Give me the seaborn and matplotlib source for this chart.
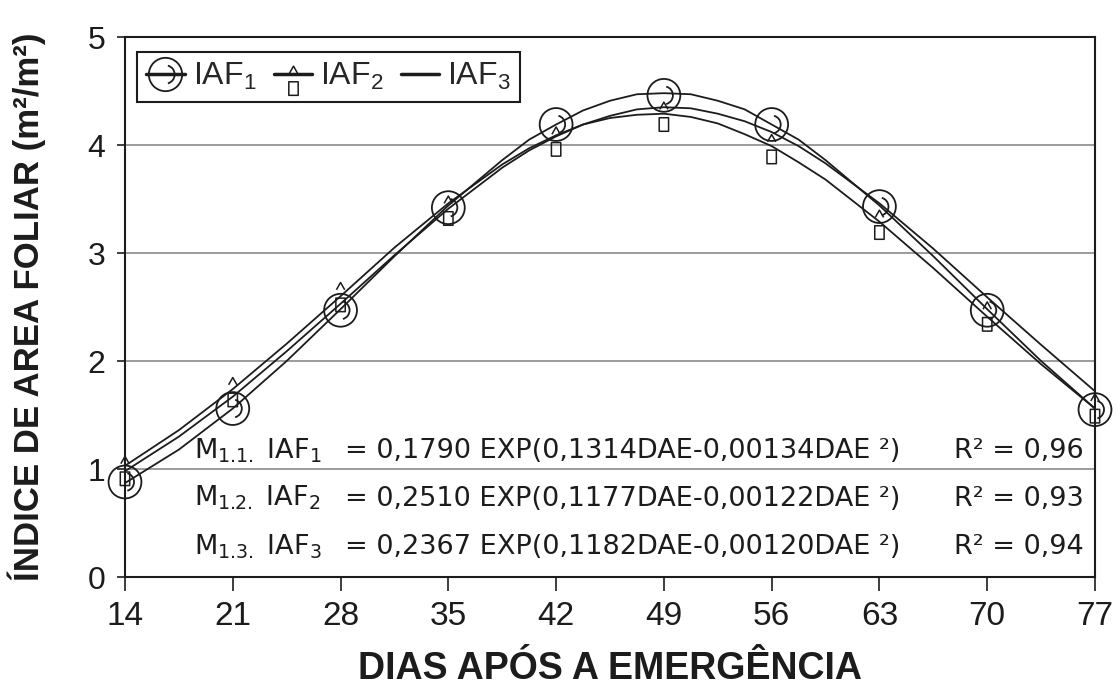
import matplotlib
matplotlib.use("Agg")
import matplotlib.pyplot as plt
import seaborn as sns
from matplotlib.path import Path
from matplotlib.lines import Line2D

# ---------------- data ----------------
dias = [14, 21, 28, 35, 42, 49, 56, 63, 70, 77]
iaf1_obs = [0.88, 1.56, 2.47, 3.42, 4.19, 4.46, 4.19, 3.43, 2.47, 1.55]
iaf2_obs = [1.04, 1.77, 2.65, 3.45, 4.09, 4.32, 4.02, 3.32, 2.47, 1.62]

dias_fit = [14, 17.5, 21, 24.5, 28, 31.5, 35, 38.5, 40.25, 42, 43.75, 45.5,
            47.25, 49, 50.75, 52.5, 54.25, 56, 57.75, 59.5, 63, 66.5, 70,
            73.5, 77]
iaf1_fit = [0.87, 1.18, 1.56, 2.00, 2.48, 2.97, 3.44, 3.86, 4.05, 4.19, 4.32,
            4.41, 4.47, 4.48, 4.47, 4.41, 4.33, 4.19, 4.05, 3.86, 3.44, 2.97,
            2.48, 2.00, 1.56]
iaf2_fit = [1.03, 1.36, 1.74, 2.16, 2.60, 3.05, 3.46, 3.82, 3.97, 4.09, 4.19,
            4.25, 4.28, 4.29, 4.26, 4.20, 4.10, 3.99, 3.84, 3.68, 3.29, 2.86,
            2.41, 1.97, 1.56]
iaf3_fit = [0.98, 1.30, 1.67, 2.09, 2.53, 2.98, 3.41, 3.79, 3.95, 4.08, 4.19,
            4.27, 4.33, 4.35, 4.34, 4.29, 4.22, 4.12, 3.99, 3.83, 3.46, 3.04,
            2.59, 2.15, 1.72]

legend_labels = ["IAF$_1$", "IAF$_2$", "IAF$_3$"]
eq_names = ["M$_{1.1.}$ IAF$_1$", "M$_{1.2.}$ IAF$_2$", "M$_{1.3.}$ IAF$_3$"]
eq_bodies = ["= 0,1790 EXP(0,1314DAE-0,00134DAE \u00b2)",
             "= 0,2510 EXP(0,1177DAE-0,00122DAE \u00b2)",
             "= 0,2367 EXP(0,1182DAE-0,00120DAE \u00b2)"]
eq_r2 = ["R\u00b2 = 0,96", "R\u00b2 = 0,93", "R\u00b2 = 0,94"]
eq_baselines = [1.10, 0.66, 0.21]

x_ticks = [14, 21, 28, 35, 42, 49, 56, 63, 70, 77]
y_ticks = [0, 1, 2, 3, 4, 5]
x_title = "DIAS AP\u00d3S A EMERG\u00caNCIA"
y_title = "\u00cdNDICE DE AREA FOLIAR (m\u00b2/m\u00b2)"

# ---------------- style ----------------
sns.set_style("ticks")
plt.rcParams["font.family"] = ["Liberation Sans", "DejaVu Sans"]
plt.rcParams["mathtext.fontset"] = "custom"
plt.rcParams["mathtext.rm"] = "Liberation Sans"
plt.rcParams["mathtext.it"] = "Liberation Sans:italic"
plt.rcParams["mathtext.bf"] = "Liberation Sans:bold"
INK = "#1c1c1c"

# custom markers
circ = Path.unit_circle()
arc = Path.arc(-75, 75)
arc = Path(arc.vertices * 0.55, arc.codes)
marker1 = Path.make_compound_path(circ, arc)

tent = Path([(-4, 1), (0, 8), (4, 1)], [Path.MOVETO, Path.LINETO, Path.LINETO])
rect = Path([(-4.5, -7), (4.5, -7), (4.5, -20), (-4.5, -20), (-4.5, -7)],
            [Path.MOVETO, Path.LINETO, Path.LINETO, Path.LINETO, Path.CLOSEPOLY])
marker2 = Path.make_compound_path(tent, rect)

fig = plt.figure(figsize=(11.17, 6.88), dpi=100)
ax = fig.add_axes([0.1119, 0.1613, 0.8684, 0.7849])

# fitted curves
for yv in (iaf1_fit, iaf2_fit, iaf3_fit):
    sns.lineplot(x=dias_fit, y=yv, color=INK, lw=1.3, ax=ax, zorder=3)

# observations
sns.scatterplot(x=dias, y=iaf2_obs, marker=marker2, s=900, color=INK,
                facecolor="none", edgecolor=INK, linewidth=1.1, ax=ax,
                zorder=4, clip_on=False)
sns.scatterplot(x=dias, y=iaf1_obs, marker=marker1, s=560, color=INK,
                facecolor="none", edgecolor=INK, linewidth=1.3, ax=ax,
                zorder=5, clip_on=False)

ax.set_xlim(14, 77)
ax.set_ylim(0, 5)
ax.set_xticks(x_ticks)
ax.set_yticks(y_ticks)
ax.yaxis.grid(True, color="#8a8a8a", lw=1.2)
ax.xaxis.grid(False)
ax.set_axisbelow(True)
for sp in ax.spines.values():
    sp.set_visible(True)
    sp.set_linewidth(1.5)
    sp.set_color(INK)
ax.tick_params(axis="x", direction="out", length=10, width=1.2, pad=7,
               labelsize=24, colors=INK)
ax.tick_params(axis="y", direction="out", length=6, width=1.2, pad=8,
               labelsize=23, colors=INK)
ax.set_xlabel(x_title, fontsize=27, fontweight="bold", color=INK, labelpad=14)
ax.set_ylabel(y_title, fontsize=25, fontweight="bold", color=INK, labelpad=30)

# equations (the reference text is wide, so the wider DejaVu Sans is used)
eq_font = dict(fontsize=19.5, color=INK, va="baseline",
               family="DejaVu Sans", math_fontfamily="dejavusans")
for name, body, r2, yb in zip(eq_names, eq_bodies, eq_r2, eq_baselines):
    ax.text(18.5, yb, name, ha="left", **eq_font)
    ax.text(28.3, yb, body, ha="left", **eq_font)
    ax.text(76.3, yb, r2, ha="right", **eq_font)

# legend
h1 = Line2D([], [], color=INK, lw=2.5, marker=marker1, markersize=24,
            mfc="none", mec=INK, mew=1.3)
h2 = Line2D([], [], color=INK, lw=2.5, marker=marker2, markersize=30,
            mfc="none", mec=INK, mew=1.1)
h3 = Line2D([], [], color=INK, lw=2.5)
leg = ax.legend([h1, h2, h3], legend_labels, loc="upper left",
                bbox_to_anchor=(0.012, 0.973), ncol=3, fontsize=23,
                frameon=True, fancybox=False, framealpha=1, edgecolor=INK,
                handlelength=1.2, handletextpad=0.25, columnspacing=0.55,
                borderpad=0.3, borderaxespad=0.0)
leg.get_frame().set_linewidth(1.5)

fig.savefig("out.png", dpi=100)
